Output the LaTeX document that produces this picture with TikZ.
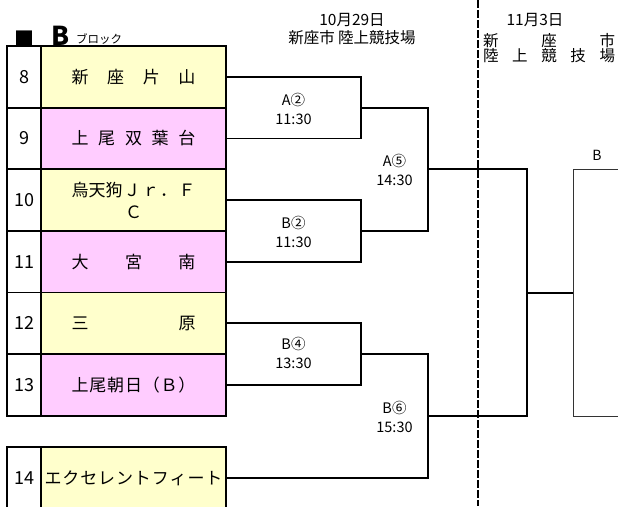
\documentclass[tikz,border=0pt]{standalone}
\usepackage{fontspec}
\setmainfont{Noto Sans CJK JP}
\usepackage{tikz}
\definecolor{teamyel}{HTML}{FFFFCC}
\definecolor{teampink}{HTML}{FFCCFF}
\newcommand\spread[2][124pt]{\makebox[#1][s]{#2}}
\begin{document}
\begin{tikzpicture}[x=1pt,y=-1pt,
  every node/.style={outer sep=0pt, inner sep=0pt},
  numcell/.style={draw, line width=1.8pt, fill=white, minimum width=34pt, minimum height=61.6pt, font=\fontsize{18}{20}\selectfont},
  team/.style={draw, line width=1.8pt, fill=#1, minimum width=185pt, minimum height=61.6pt, align=center, font=\fontsize{17}{22}\selectfont},
  bracket/.style={line width=1.8pt},
  matchlbl/.style={align=center, font=\fontsize{14.5}{19}\selectfont},
  hdr/.style={font=\fontsize{15.5}{16}\selectfont}]
\useasboundingbox (0,0) rectangle (618,506);
\clip (0,0) rectangle (618,506);

\node[font=\fontsize{20}{20}\selectfont] (sq) at (24.5,38.5) {■};
\node[font=\fontsize{26}{26}\selectfont\bfseries] (blk) at (61,36) {B};
\node[font=\fontsize{11.5}{12}\selectfont] (blkword) at (99,39.5) {ブロック};
\node[hdr] (day1) at (352,20) {10月29日};
\node[hdr] (venue1) at (352,38) {新座市 陸上競技場};
\node[hdr] (day2) at (535,20) {11月3日};
\node[hdr] (venue2a) at (549,41) {\spread[132pt]{新\hfill 座\hfill 市}};
\node[hdr] (venue2b) at (549,55.5) {\spread[132pt]{陸\hfill 上\hfill 競\hfill 技\hfill 場}};

\node[numcell] (n8) at (24,76.8) {8};
\node[team=teamyel] (t8) at (133.5,76.8) {\spread{新\hfill 座\hfill 片\hfill 山}};
\node[numcell] (n9) at (24,138.4) {9};
\node[team=teampink] (t9) at (133.5,138.4) {\spread{上\hfill 尾\hfill 双\hfill 葉\hfill 台}};
\node[numcell] (n10) at (24,200) {10};
\node[team=teamyel] (t10) at (133.5,200) {\spread{烏天狗\hfill Ｊ\hfill ｒ\hfill ．\hfill Ｆ}\\Ｃ};
\node[numcell] (n11) at (24,261.6) {11};
\node[team=teampink] (t11) at (133.5,261.6) {\spread{大\hfill 宮\hfill 南}};
\node[numcell] (n12) at (24,323.2) {12};
\node[team=teamyel] (t12) at (133.5,323.2) {\spread{三\hfill 原}};
\node[numcell] (n13) at (24,384.8) {13};
\node[team=teampink] (t13) at (133.5,384.8) {\spread{上\hfill 尾\hfill 朝\hfill 日\hfill （\hfill Ｂ\hfill ）}};
\node[numcell] (n14) at (24,477.8) {14};
\node[team=teamyel] (t14) at (133.5,477.8) {\spread[178pt]{エ\hfill ク\hfill セ\hfill レ\hfill ン\hfill ト\hfill フ\hfill ィ\hfill ー\hfill ト}};

\coordinate (a2) at (361,107.6);
\coordinate (b2) at (361,230.8);
\coordinate (b4) at (361,354);
\coordinate (a5) at (428,169.2);
\coordinate (b6) at (428,415.9);
\coordinate (fin) at (527,292.6);
\node[draw=black!80, line width=0.9pt, minimum width=120pt, minimum height=246.7pt] (fbox) at (633,292.6) {};
\node[font=\fontsize{14}{14}\selectfont] (fboxlbl) at (597,155) {B};

\draw[line width=1.8pt, dash pattern=on 8pt off 2pt] (478,0) -- (478,506);

\draw[bracket] (t8.east) -| (a2) |- (t9.east);
\draw[bracket] (t10.east) -| (b2) |- (t11.east);
\draw[bracket] (t12.east) -| (b4) |- (t13.east);
\draw[bracket] (a2) -| (a5) |- (b2);
\draw[bracket] (b4) -| (b6) |- (t14.east);
\draw[bracket] (a5) -| (fin) |- (b6);
\draw[bracket] (fin) -- (fbox.west);

\node[matchlbl] (la2) at (293.5,108.5) {A②\\11:30};
\node[matchlbl] (lb2) at (293.5,231.5) {B②\\11:30};
\node[matchlbl] (lb4) at (293.5,353) {B④\\13:30};
\node[matchlbl] (la5) at (394.5,169.5) {A⑤\\14:30};
\node[matchlbl] (lb6) at (394.5,416.5) {B⑥\\15:30};
\end{tikzpicture}
\end{document}
